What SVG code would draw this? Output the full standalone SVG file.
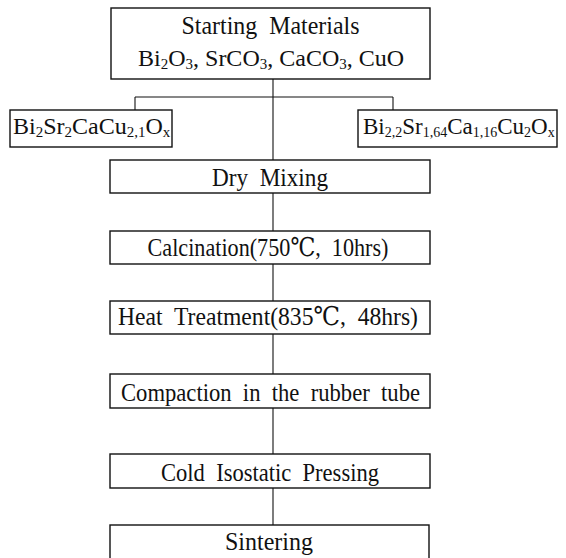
<svg xmlns="http://www.w3.org/2000/svg" width="566" height="558" viewBox="0 0 566 558">
<style>
.box{fill:#fff;stroke:#111;stroke-width:1.4}
.conn line{stroke:#111;stroke-width:1.1}
text{font-family:"Liberation Serif","DejaVu Serif",serif;font-size:26px;fill:#111;white-space:pre}
.c{text-anchor:middle}
.f{font-size:24px}
.f2{font-size:23px}
.sub{font-size:15px}
.sub2{font-size:14px}
</style>
<rect width="566" height="558" fill="#fff"/>
<g id="connectors" class="conn">
<line x1="273" y1="79" x2="273" y2="160"/>
<line x1="135" y1="97" x2="393" y2="97"/>
<line x1="135" y1="97" x2="135" y2="110"/>
<line x1="393" y1="97" x2="393" y2="110"/>
<line x1="273" y1="193" x2="273" y2="231"/>
<line x1="273" y1="264" x2="273" y2="301"/>
<line x1="273" y1="334" x2="273" y2="374"/>
<line x1="273" y1="408" x2="273" y2="454"/>
<line x1="273" y1="488" x2="273" y2="525"/>
</g>
<g id="start">
<rect class="box" x="111" y="8" width="319" height="71"/>
<text class="c" x="270.5" y="34" textLength="178" lengthAdjust="spacingAndGlyphs">Starting  Materials</text>
<text class="f" x="138" y="66">Bi<tspan class="sub" dy="3">2</tspan><tspan dy="-3">O</tspan><tspan class="sub" dy="3">3</tspan><tspan dy="-3">, SrCO</tspan><tspan class="sub" dy="3">3</tspan><tspan dy="-3">, CaCO</tspan><tspan class="sub" dy="3">3</tspan><tspan dy="-3">, CuO</tspan></text>
</g>
<g id="compA">
<rect class="box" x="10" y="110" width="162" height="37"/>
<text class="f" x="13" y="134">Bi<tspan class="sub" dy="3">2</tspan><tspan dy="-3">Sr</tspan><tspan class="sub" dy="3">2</tspan><tspan dy="-3">CaCu</tspan><tspan class="sub" dy="3">2,1</tspan><tspan dy="-3">O</tspan><tspan class="sub" dy="3">x</tspan></text>
</g>
<g id="compB">
<rect class="box" x="358" y="110" width="199" height="37"/>
<text class="f2" x="363" y="134">Bi<tspan class="sub2" dy="3">2,2</tspan><tspan dy="-3">Sr</tspan><tspan class="sub2" dy="3">1,64</tspan><tspan dy="-3">Ca</tspan><tspan class="sub2" dy="3">1,16</tspan><tspan dy="-3">Cu</tspan><tspan class="sub2" dy="3">2</tspan><tspan dy="-3">O</tspan><tspan class="sub2" dy="3">x</tspan></text>
</g>
<g id="dry">
<rect class="box" x="110" y="160" width="320" height="33"/>
<text class="c" x="270" y="186" textLength="116" lengthAdjust="spacingAndGlyphs">Dry  Mixing</text>
</g>
<g id="calc">
<rect class="box" x="110" y="231" width="320" height="33"/>
<text class="c" x="268" y="256" textLength="241" lengthAdjust="spacingAndGlyphs">Calcination(750℃,  10hrs)</text>
</g>
<g id="heat">
<rect class="box" x="110" y="301" width="320" height="33"/>
<text class="c" x="268" y="325" textLength="300" lengthAdjust="spacingAndGlyphs">Heat  Treatment(835℃,  48hrs)</text>
</g>
<g id="compact">
<rect class="box" x="110" y="374" width="320" height="34"/>
<text class="c" x="270.5" y="401" textLength="299" lengthAdjust="spacingAndGlyphs">Compaction  in  the  rubber  tube</text>
</g>
<g id="cip">
<rect class="box" x="110" y="454" width="320" height="34"/>
<text class="c" x="270" y="481" textLength="218" lengthAdjust="spacingAndGlyphs">Cold  Isostatic  Pressing</text>
</g>
<g id="sinter">
<rect class="box" x="110" y="525" width="319" height="40"/>
<text class="c" x="269" y="550" textLength="88" lengthAdjust="spacingAndGlyphs">Sintering</text>
</g>
</svg>
